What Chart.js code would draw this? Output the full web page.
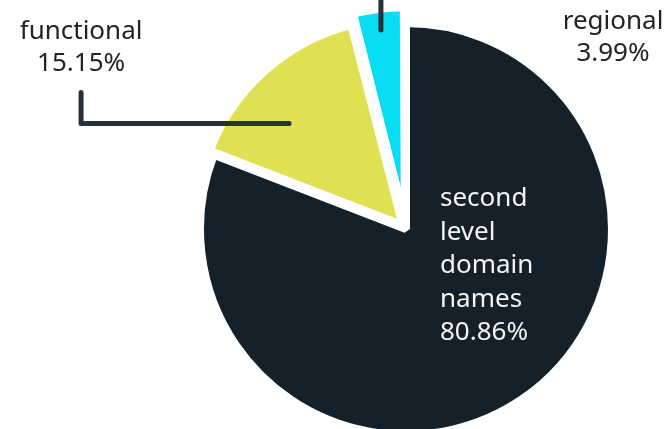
<!DOCTYPE html>
<html>
<head>
<meta charset="utf-8">
<script src="https://cdn.jsdelivr.net/npm/chart.js@4"></script>
<style>
  html, body { margin: 0; padding: 0; background: #fff; overflow: hidden; }
  #wrap { width: 668px; height: 429px; position: relative; }
</style>
</head>
<body>
<div id="wrap"><canvas id="myChart" width="668" height="429"></canvas></div>
<script>
// data
const categories = ["second level domain names", "functional", "regional"];
const shares = [80.86, 15.15, 3.99];

// style
const sliceColors = ["#14202a", "#dfe052", "#07dcf2"];
const sliceOffsets = [0, 20, 36];
const FONT = '"Noto Sans", "Open Sans", sans-serif';
const INK = "#27313b";

function pct(v) {
  return v.toFixed(2) + "%";
}

// labels + leader lines
const sliceLabels = {
  id: "sliceLabels",
  afterDatasetsDraw(chart) {
    const ctx = chart.ctx;
    const arcs = chart.getDatasetMeta(0).data;

    // point inside slice i: frac of radius, at angle position af (0..1) across the slice
    function anchor(i, frac, af) {
      const a = arcs[i];
      const mid = (a.startAngle + a.endAngle) / 2;
      const ang = a.startAngle + (a.endAngle - a.startAngle) * af;
      const off = sliceOffsets[i] / 4;
      const r = a.outerRadius * frac;
      return {
        x: a.x + Math.cos(mid) * off + Math.cos(ang) * r,
        y: a.y + Math.sin(mid) * off + Math.sin(ang) * r,
      };
    }

    ctx.save();
    ctx.font = "26px " + FONT;
    ctx.textBaseline = "middle";
    ctx.lineWidth = 5;
    ctx.lineCap = "round";
    ctx.lineJoin = "round";
    ctx.strokeStyle = INK;

    // big slice: text inside
    const big = arcs[0];
    let lines = categories[0].split(" ").concat(pct(shares[0]));
    ctx.fillStyle = "#f4f4f4";
    ctx.textAlign = "left";
    lines.forEach((t, k) => ctx.fillText(t, big.x + 34, big.y - 30 + k * 33.5));

    // functional
    const p1 = anchor(1, 0.74, 0.38);
    const ex = p1.x - 208;
    ctx.beginPath();
    ctx.moveTo(p1.x, p1.y);
    ctx.lineTo(ex, p1.y);
    ctx.lineTo(ex, p1.y - 31);
    ctx.stroke();
    ctx.fillStyle = "#232323";
    ctx.textAlign = "center";
    lines = categories[1].split(" ").concat(pct(shares[1]));
    lines.forEach((t, k) => ctx.fillText(t, ex, p1.y - 92 + k * 32));

    // regional
    const p2 = anchor(2, 0.93, 0.5);
    ctx.beginPath();
    ctx.moveTo(p2.x, p2.y);
    ctx.lineTo(p2.x, -10);
    ctx.stroke();
    lines = categories[2].split(" ").concat(pct(shares[2]));
    lines.forEach((t, k) => ctx.fillText(t, chart.width - 55, 22 + k * 32));

    ctx.restore();
  }
};

const ctx = document.getElementById("myChart");
const myChart = new Chart(ctx, {
  type: "pie",
  data: {
    labels: categories,
    datasets: [
      {
        data: shares,
        backgroundColor: sliceColors,
        borderColor: "#ffffff",
        borderWidth: 8,
        offset: sliceOffsets,
        hoverOffset: 0,
        radius: 206,
        clip: false,
      },
    ],
  },
  options: {
    responsive: false,
    animation: false,
    layout: { padding: { left: 144, top: 29, right: 0, bottom: 0 } },
    plugins: {
      legend: { display: false },
      tooltip: { enabled: false },
    },
  },
  plugins: [sliceLabels],
});
</script>
</body>
</html>
